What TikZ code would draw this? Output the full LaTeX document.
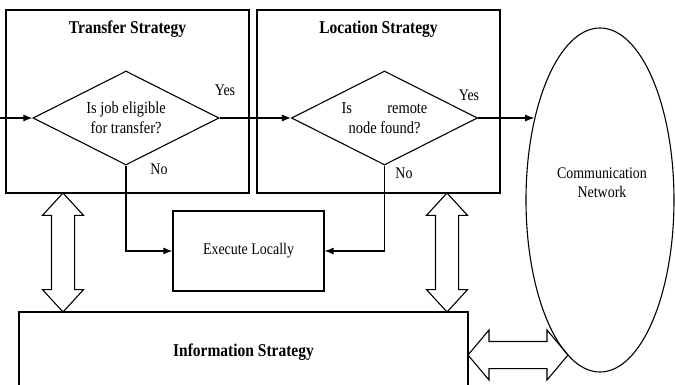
\documentclass[tikz,border=0pt]{standalone}
\usepackage{fontspec}
\setmainfont{Liberation Serif}[FakeStretch=0.86]
\usetikzlibrary{shapes.geometric,shapes.arrows,arrows.meta}

\begin{document}
\begin{tikzpicture}[x=1pt,y=-1pt,
    box/.style = {draw, line width=1.2pt, rectangle, inner sep=0pt},
    decision/.style = {draw, line width=1.1pt, diamond, aspect=2, minimum width=186pt, minimum height=94pt, inner sep=0pt, align=center, font=\fontsize{16.8}{20}\selectfont},
    title/.style = {font=\fontsize{18}{21}\selectfont\bfseries},
    txt/.style = {font=\fontsize{16.2}{19}\selectfont},
    flow/.style = {line width=1.1pt, -{Latex[length=9pt,width=7pt]}},
    both/.style = {draw, line width=1.1pt, double arrow, fill=white}]
    \useasboundingbox (0,0) rectangle (675,385);
    \clip (0,0) rectangle (675,385);
    \node[box, minimum width=243pt, minimum height=183pt] (transfer) at (127.5,101.5) {};
    \node[box, minimum width=243pt, minimum height=183pt] (location) at (378.5,101.5) {};
    \node[title] (ttransfer) at (127.5,29) {Transfer Strategy};
    \node[title] (tlocation) at (378.5,29) {Location Strategy};
    \node[decision] (eligible) at (126,118) {Is job eligible\\for transfer?};
    \node[decision] (remote) at (384.5,118) {Is\hspace{2.1em}remote\\node found?};
    \node[box, txt, minimum width=151pt, minimum height=80pt] (exec) at (248.5,251) {Execute Locally};
    \node[box, title, minimum width=449pt, minimum height=80pt] (info) at (243.5,352) {Information Strategy};
    \node[txt] (yes1) at (225,90) {Yes};
    \node[txt] (no1) at (159,169) {No};
    \node[txt] (yes2) at (469,95) {Yes};
    \node[txt] (no2) at (404,173) {No};
    \coordinate (start) at (0,118);
    \draw[flow] (start) -- (eligible);
    \draw[flow] (eligible) -- (remote);
    \draw[flow] (eligible.south) |- (exec);
    \draw[flow] (remote.south) |- (exec);
    \node[both, rotate=90, minimum height=119pt, inner sep=11pt, double arrow head extend=9pt, double arrow tip angle=85] (link1) at (63,252.5) {};
    \node[both, rotate=90, minimum height=119pt, inner sep=11pt, double arrow head extend=9pt, double arrow tip angle=85] (link2) at (447,252.5) {};
    \node[both, minimum height=100pt, inner sep=13pt, double arrow head extend=11.5pt, double arrow tip angle=100] (link3) at (518,355) {};
    \node[draw, ellipse, line width=1.1pt, minimum width=148pt, minimum height=344pt] (net) at (600,200) {};
    \node[txt, align=center] (nettext) at (602,183) {Communication\\Network};
    \draw[flow] (remote) -- (remote -| net.129);
\end{tikzpicture}
\end{document}
